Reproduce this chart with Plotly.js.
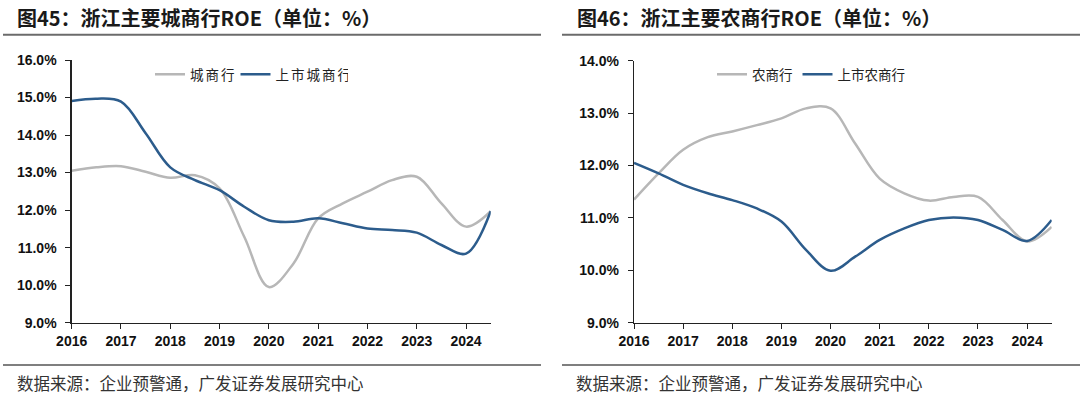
<!DOCTYPE html>
<html>
<head>
<meta charset="utf-8">
<script src="https://cdn.plot.ly/plotly-3.0.1.min.js"></script>
<style>
html,body{margin:0;padding:0;background:#fff;}
#chart{width:1080px;height:396px;}
#chart g.legend text.legendtext{letter-spacing:2px;}
</style>
</head>
<body>
<div id="chart"></div>
<script>
// Half-year positions, labels on whole years
const xPeriods = [2016, 2016.5, 2017, 2017.5, 2018, 2018.5, 2019, 2019.5, 2020, 2020.5, 2021, 2021.5, 2022, 2022.5, 2023, 2023.5, 2024, 2024.5];
const yearTicks = [2016, 2017, 2018, 2019, 2020, 2021, 2022, 2023, 2024];
const yearLabels = ["2016", "2017", "2018", "2019", "2020", "2021", "2022", "2023", "2024"];

// Left chart: 浙江主要城商行ROE (%)
const cityBankROE       = [13.05, 13.14, 13.17, 13.02, 12.86, 12.93, 12.58, 11.29, 9.95, 10.58, 11.78, 12.18, 12.49, 12.80, 12.89, 12.18, 11.56, 11.97];
const listedCityBankROE = [14.91, 14.97, 14.89, 14.05, 13.14, 12.80, 12.53, 12.09, 11.73, 11.69, 11.78, 11.65, 11.51, 11.47, 11.40, 11.07, 10.84, 11.97];

// Right chart: 浙江主要农商行ROE (%)
const ruralBankROE       = [11.35, 11.85, 12.30, 12.54, 12.65, 12.77, 12.90, 13.09, 13.09, 12.42, 11.75, 11.47, 11.33, 11.40, 11.40, 10.96, 10.55, 10.83];
const listedRuralBankROE = [12.05, 11.85, 11.63, 11.47, 11.34, 11.18, 10.93, 10.39, 9.99, 10.26, 10.58, 10.80, 10.96, 11.01, 10.96, 10.77, 10.56, 10.96];

const names = ["城商行", "上市城商行", "农商行", "上市农商行"];
const titles = ["图45：浙江主要城商行ROE（单位：%）", "图46：浙江主要农商行ROE（单位：%）"];
const sourceText = "数据来源：企业预警通，广发证券发展研究中心";

const GRAY = "#B7B7B7", BLUE = "#2C5C8C";
const W = 1080, H = 396;
const px = v => v / W, py = v => 1 - v / H;

function tr(y, name, color, xa, ya, lg) {
  return {x: xPeriods, y: y, name: name, type: "scatter", mode: "lines",
    line: {color: color, width: 2.5, shape: "spline", smoothing: 1},
    xaxis: xa, yaxis: ya, legend: lg, hoverinfo: "skip"};
}
const data = [
  tr(cityBankROE, names[0], GRAY, "x", "y", "legend"),
  tr(listedCityBankROE, names[1], BLUE, "x", "y", "legend"),
  tr(ruralBankROE, names[2], GRAY, "x2", "y2", "legend2"),
  tr(listedRuralBankROE, names[3], BLUE, "x2", "y2", "legend2")
];

const tickFont = {family: "Liberation Sans, Arial, sans-serif", size: 14, color: "#111", weight: "bold"};
function xax(dom) {
  return {domain: dom, range: [2016, 2024.5], tickvals: yearTicks, ticktext: yearLabels,
    showline: true, linecolor: "#222", linewidth: 1.3, ticks: "outside", ticklen: 5, tickcolor: "#222",
    showgrid: false, zeroline: false, tickfont: tickFont, fixedrange: true};
}
function yax(dom, range, anchor) {
  return {domain: dom, range: range, dtick: 1, tick0: 9, tickformat: ".1f", ticksuffix: "%",
    showline: true, linecolor: "#222", linewidth: 1.3, ticks: "outside", ticklen: 5, tickcolor: "#222",
    ticklabelstandoff: 6,
    showgrid: false, zeroline: false, tickfont: tickFont, anchor: anchor, fixedrange: true};
}
const legFont = {family: "Noto Sans CJK SC, sans-serif", size: 13.5, color: "#222"};
const titleFont = {family: "Noto Sans CJK SC, Liberation Sans, sans-serif", size: 20, color: "#1a1a1a"};
const srcFont = {family: "Noto Sans CJK SC, sans-serif", size: 16.5, color: "#333"};

const layout = {
  width: W, height: H,
  margin: {l: 0, r: 0, t: 0, b: 0},
  paper_bgcolor: "#fff", plot_bgcolor: "#fff",
  showlegend: true,
  xaxis: Object.assign(xax([px(71.7), px(490.7)]), {anchor: "y"}),
  yaxis: yax([py(322.7), py(60)], [9, 16], "x"),
  xaxis2: Object.assign(xax([px(634), px(1051.7)]), {anchor: "y2"}),
  yaxis2: yax([py(322.7), py(60.7)], [9, 14], "x2"),
  legend: {orientation: "h", x: px(150), y: py(59), xanchor: "left", yanchor: "top",
    font: legFont, bgcolor: "rgba(0,0,0,0)", itemwidth: 30, tracegroupgap: 0},
  legend2: {orientation: "h", x: px(712), y: py(59), xanchor: "left", yanchor: "top",
    font: legFont, bgcolor: "rgba(0,0,0,0)", itemwidth: 30, tracegroupgap: 0},
  annotations: [
    {text: "<b>" + titles[0] + "</b>", x: px(15), y: py(18), xref: "paper", yref: "paper",
     xanchor: "left", yanchor: "middle", showarrow: false, font: titleFont},
    {text: "<b>" + titles[1] + "</b>", x: px(575), y: py(18), xref: "paper", yref: "paper",
     xanchor: "left", yanchor: "middle", showarrow: false, font: titleFont},
    {text: sourceText, x: px(15), y: py(383), xref: "paper", yref: "paper",
     xanchor: "left", yanchor: "middle", showarrow: false, font: srcFont},
    {text: sourceText, x: px(574), y: py(383), xref: "paper", yref: "paper",
     xanchor: "left", yanchor: "middle", showarrow: false, font: srcFont}
  ],
  shapes: [
    {type: "line", xref: "paper", yref: "paper", x0: px(3), x1: px(541), y0: py(34.7), y1: py(34.7), line: {color: "#6b6b6b", width: 2}},
    {type: "line", xref: "paper", yref: "paper", x0: px(562), x1: px(1080), y0: py(34.7), y1: py(34.7), line: {color: "#6b6b6b", width: 2}},
    {type: "line", xref: "paper", yref: "paper", x0: px(3), x1: px(541), y0: py(365), y1: py(365), line: {color: "#555", width: 1.3}},
    {type: "line", xref: "paper", yref: "paper", x0: px(562), x1: px(1080), y0: py(365), y1: py(365), line: {color: "#555", width: 1.3}}
  ]
};

Plotly.newPlot("chart", data, layout, {staticPlot: true, displayModeBar: false});
</script>
</body>
</html>
